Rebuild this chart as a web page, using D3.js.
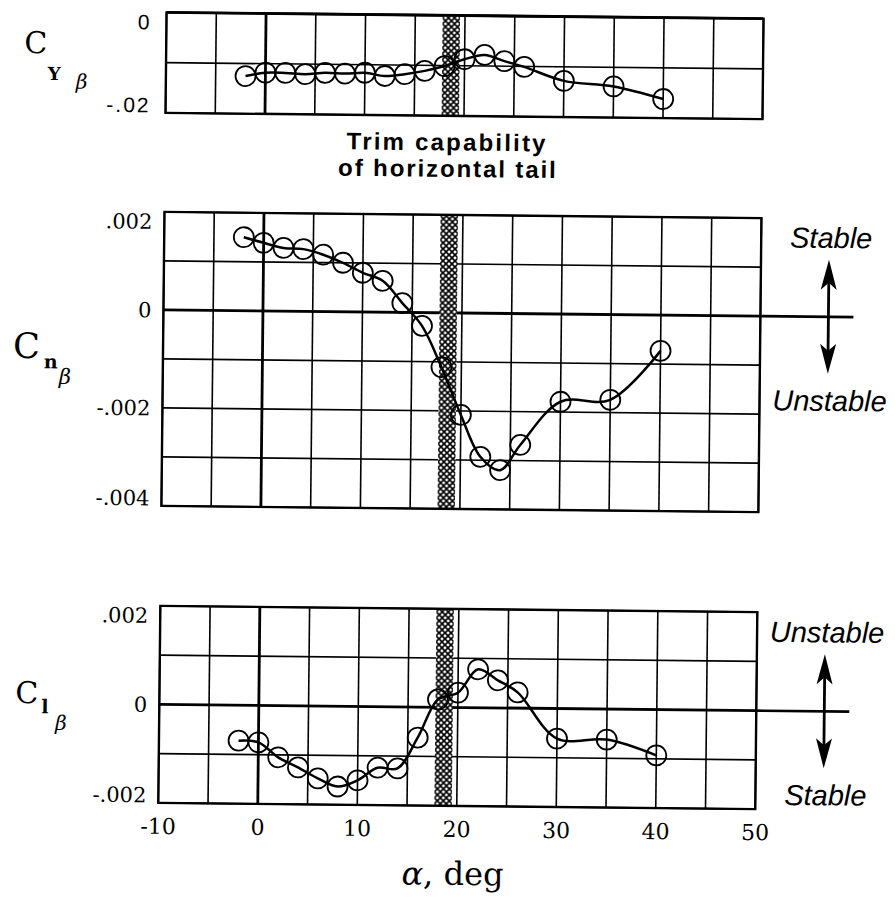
<!DOCTYPE html>
<html>
<head>
<meta charset="utf-8">
<script src="https://cdn.jsdelivr.net/npm/d3@7"></script>
<style>
  body { margin: 0; background: #fff; }
</style>
</head>
<body>
<div id="chart"></div>
<script>
/*
 * Lateral-directional stability derivatives vs angle of attack.
 * Three stacked panels share one alpha scale; the scanned original is
 * tilted a little, so the whole group is rotated by a fraction of a degree.
 */

// angle of attack of each test point, deg
var alpha = [-2, 0, 2, 4, 6, 8, 10, 12, 14, 16, 18, 20, 22, 24, 26, 30, 35, 40];

var cyBeta = [-0.0125, -0.0118, -0.0118, -0.0120, -0.0117, -0.0118, -0.0116, -0.0122, -0.0118,
              -0.0111, -0.0101, -0.0087, -0.0078, -0.0090, -0.0101, -0.0128, -0.0138, -0.0162];
var cnBeta = [0.00150, 0.00139, 0.00129, 0.00127, 0.00116, 0.00100, 0.00080, 0.00064, 0.00019,
              -0.00027, -0.00111, -0.00208, -0.00293, -0.00320, -0.00268, -0.00179, -0.00174, -0.00073];
var clBeta = [-0.00072, -0.00075, -0.00105, -0.00125, -0.00147, -0.00163, -0.00150, -0.00124, -0.00125,
              -0.00062, 0.00016, 0.00030, 0.00078, 0.00056, 0.00032, -0.00061, -0.00062, -0.00093];

// axes
var alphaGrid = [-10, -5, 0, 5, 10, 15, 20, 25, 30, 35, 40, 45, 50];
var alphaTicks = [-10, 0, 10, 20, 30, 40, 50];
var alphaTickLabels = ["-10", "0", "10", "20", "30", "40", "50"];

var cyGrid = [0, -0.01, -0.02];
var cyTicks = [0, -0.02];
var cyTickLabels = ["0", "-.02"];

var cnGrid = [0.002, 0.001, 0, -0.001, -0.002, -0.003, -0.004];
var cnTicks = [0.002, 0, -0.002, -0.004];
var cnTickLabels = [".002", "0", "-.002", "-.004"];

var clGrid = [0.002, 0.001, 0, -0.001, -0.002];
var clTicks = [0.002, 0, -0.002];
var clTickLabels = [".002", "0", "-.002"];

// trim capability of horizontal tail, alpha range
var trimBand = [17.75, 19.5];

var W = 895, H = 900;
var SERIF = "'DejaVu Serif', serif";
var SANS = "'Liberation Sans', Arial, Helvetica, sans-serif";

var svg = d3.select("#chart").append("svg")
    .attr("width", W).attr("height", H)
    .style("display", "block");

svg.append("rect").attr("width", W).attr("height", H).attr("fill", "#fff");

// cross hatch for the trim band
var pat = svg.append("defs").append("pattern")
    .attr("id", "xhatch")
    .attr("patternUnits", "userSpaceOnUse")
    .attr("width", 6).attr("height", 6);
pat.append("rect").attr("width", 6).attr("height", 6).attr("fill", "#fff");
pat.append("path")
    .attr("d", "M-1,-1L7,7M7,-1L-1,7")
    .attr("stroke", "#000").attr("stroke-width", 1.6);

var g = svg.append("g").attr("transform", "rotate(0.6 460 450)");

var x = d3.scaleLinear().domain([-10, 50]).range([162, 759]);

var panels = [
    {top: 15.5, bottom: 116, domain: [-0.02, 0], grid: cyGrid, ticks: cyTicks, labels: cyTickLabels, values: cyBeta, sansTicks: true},
    {top: 215, bottom: 509, domain: [-0.004, 0.002], grid: cnGrid, ticks: cnTicks, labels: cnTickLabels, values: cnBeta},
    {top: 609, bottom: 806, domain: [-0.002, 0.002], grid: clGrid, ticks: clTicks, labels: clTickLabels, values: clBeta, xAxis: true}
];

panels.forEach(function(p) {
    var y = d3.scaleLinear().domain(p.domain).range([p.bottom, p.top]);
    p.y = y;
    var pg = g.append("g");

    // grid
    pg.selectAll(".vgrid").data(alphaGrid).enter().append("line")
        .attr("x1", function(d) { return x(d); })
        .attr("x2", function(d) { return x(d); })
        .attr("y1", p.top).attr("y2", p.bottom)
        .attr("stroke", "#000")
        .attr("stroke-width", function(d) { return d === 0 ? 2.8 : 1.6; });

    pg.selectAll(".hgrid").data(p.grid).enter().append("line")
        .attr("x1", x(-10)).attr("x2", x(50))
        .attr("y1", function(d) { return y(d); })
        .attr("y2", function(d) { return y(d); })
        .attr("stroke", "#000")
        .attr("stroke-width", function(d) { return Math.abs(d) < 1e-12 ? 2.8 : 1.6; });

    // trim band
    pg.append("rect")
        .attr("x", x(trimBand[0])).attr("width", x(trimBand[1]) - x(trimBand[0]))
        .attr("y", p.top).attr("height", p.bottom - p.top)
        .attr("fill", "url(#xhatch)");

    // frame
    pg.append("rect")
        .attr("x", x(-10)).attr("y", p.top)
        .attr("width", x(50) - x(-10)).attr("height", p.bottom - p.top)
        .attr("fill", "none").attr("stroke", "#000").attr("stroke-width", 2.4);

    // y tick labels, end ones nudged inside the frame
    pg.selectAll(".ylab").data(p.ticks).enter().append("text")
        .attr("x", p.sansTicks ? 147 : 150)
        .attr("y", function(d, i) {
            var c = y(d);
            if (i === 0) c += 9.5;
            if (i === p.ticks.length - 1) c -= 8;
            return c;
        })
        .attr("dy", "0.36em")
        .attr("text-anchor", "end")
        .attr("font-family", p.sansTicks ? SANS : SERIF)
        .attr("font-size", p.sansTicks ? 21 : 21)
        .attr("letter-spacing", p.sansTicks ? 2 : 0)
        .attr("fill", "#000")
        .text(function(d, i) { return p.labels[i]; });

    // data
    var pts = alpha.map(function(a, i) { return [a, p.values[i]]; });
    var line = d3.line()
        .x(function(d) { return x(d[0]); })
        .y(function(d) { return y(d[1]); })
        .curve(d3.curveCatmullRom.alpha(0.5));

    pg.append("path")
        .datum(pts)
        .attr("d", line)
        .attr("fill", "none")
        .attr("stroke", "#000")
        .attr("stroke-width", 2.5);

    pg.selectAll(".pt").data(pts).enter().append("circle")
        .attr("cx", function(d) { return x(d[0]); })
        .attr("cy", function(d) { return y(d[1]); })
        .attr("r", 10)
        .attr("fill", "none")
        .attr("stroke", "#000")
        .attr("stroke-width", 1.8);

    if (p.xAxis) {
        pg.selectAll(".xlab").data(alphaTicks).enter().append("text")
            .attr("x", function(d) { return x(d); })
            .attr("y", p.bottom + 31)
            .attr("text-anchor", "middle")
            .attr("font-family", SERIF)
            .attr("font-size", 22)
            .attr("fill", "#000")
            .text(function(d, i) { return alphaTickLabels[i]; });
    }
});

// y titles: C with subscript and sub-subscript beta
function coefTitle(cx, cy, cSize, sub, subX, subY, subSize, betaX, betaY, betaSize) {
    var t = g.append("text").attr("font-family", SERIF).attr("fill", "#000");
    t.append("tspan").attr("x", cx).attr("y", cy).attr("font-size", cSize).text("C");
    t.append("tspan").attr("x", subX).attr("y", subY).attr("font-size", subSize)
        .attr("font-weight", "bold").text(sub);
    t.append("tspan").attr("x", betaX).attr("y", betaY).attr("font-size", betaSize)
        .attr("font-style", "italic").text("β");
}
coefTitle(20, 57.5, 30, "Y", 44, 84.4, 18, 72, 92.6, 20);
coefTitle(12, 362.5, 35, "n", 43, 372.6, 19, 58, 388, 21);
coefTitle(18, 707.6, 30, "l", 44, 717.5, 19, 58, 734, 20);

// band caption
g.append("text")
    .attr("x", 444).attr("y", 150.5)
    .attr("text-anchor", "middle")
    .attr("font-family", SANS).attr("font-weight", "bold")
    .attr("font-size", 24).attr("letter-spacing", 2.2)
    .text("Trim capability");
g.append("text")
    .attr("x", 445).attr("y", 177)
    .attr("text-anchor", "middle")
    .attr("font-family", SANS).attr("font-weight", "bold")
    .attr("font-size", 24).attr("letter-spacing", 1.9)
    .text("of horizontal tail");

// x title
var xt = g.append("text")
    .attr("x", 457).attr("y", 885)
    .attr("text-anchor", "middle")
    .attr("font-family", SERIF).attr("font-size", 32)
    .attr("fill", "#000");
xt.append("tspan").attr("font-style", "italic").text("α");
xt.append("tspan").text(", deg");

// stable / unstable markers to the right of the two lower panels
function stabilityArrow(p, upText, downText) {
    var y0 = p.y(0), ax = 827, half = 57;
    g.append("line")
        .attr("x1", x(50)).attr("x2", 852)
        .attr("y1", y0).attr("y2", y0)
        .attr("stroke", "#000").attr("stroke-width", 2.6);
    g.append("line")
        .attr("x1", ax).attr("x2", ax)
        .attr("y1", y0 - half + 10).attr("y2", y0 + half - 10)
        .attr("stroke", "#000").attr("stroke-width", 2.8);
    var head = function(tip, dir) {
        return "M" + ax + "," + tip +
            "L" + (ax + 8) + "," + (tip + dir * 30) +
            "L" + ax + "," + (tip + dir * 23) +
            "L" + (ax - 8) + "," + (tip + dir * 30) + "Z";
    };
    g.append("path").attr("d", head(y0 - half, 1)).attr("fill", "#000");
    g.append("path").attr("d", head(y0 + half, -1)).attr("fill", "#000");

    g.append("text")
        .attr("x", 829).attr("y", y0 - 69)
        .attr("text-anchor", "middle")
        .attr("font-family", SANS).attr("font-style", "italic")
        .attr("font-size", 29)
        .text(upText);
    g.append("text")
        .attr("x", 829).attr("y", y0 + 94)
        .attr("text-anchor", "middle")
        .attr("font-family", SANS).attr("font-style", "italic")
        .attr("font-size", 29)
        .text(downText);
}
stabilityArrow(panels[1], "Stable", "Unstable");
stabilityArrow(panels[2], "Unstable", "Stable");
</script>
</body>
</html>
